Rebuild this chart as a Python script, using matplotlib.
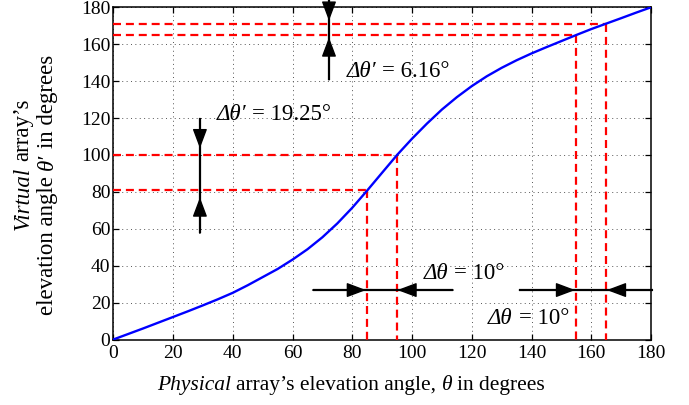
import matplotlib
matplotlib.use("Agg")
import matplotlib.pyplot as plt

plt.rcParams['font.family'] = ['Liberation Serif', 'DejaVu Serif']

# ---- data ----
theta = [0, 5, 10, 15, 20, 25, 30, 35, 40, 45, 50, 55, 60, 65, 70, 75, 80, 85,
         90, 95, 100, 105, 110, 115, 120, 125, 130, 135, 140, 145, 150, 155,
         160, 165, 170, 175, 180]
theta_virtual = [0, 3.0, 6.0, 9.1, 12.2, 15.3, 18.5, 21.8, 25.3, 29.4, 33.8,
                 38.2, 43.3, 48.9, 55.4, 62.9, 71.4, 80.75, 90.4, 100.0, 108.8,
                 117.0, 124.6, 131.3, 137.3, 142.6, 147.2, 151.3, 155.0, 158.4,
                 161.7, 165.0, 168.2, 171.16, 174.1, 177.1, 180]

# guide lines (physical angle -> virtual angle)
guide_theta = [85, 95, 155, 165]
guide_virtual = [80.75, 100.0, 165.0, 171.16]

# arrow annotations: shaft (x0, y0, x1, y1) and heads (tip, base)
shafts = [(29.0, 119.8, 29.0, 57.5),
          (72.2, 184.0, 72.2, 140.6),
          (66.7, 26.8, 113.8, 26.8),
          (135.9, 26.8, 180.5, 26.8)]
heads = [((29.0, 103.6), (29.0, 119.8)),
         ((29.0, 77.0), (29.0, 57.5)),
         ((72.2, 172.7), (72.2, 184.0)),
         ((72.2, 163.7), (72.2, 140.6)),
         ((84.6, 26.8), (66.7, 26.8)),
         ((95.1, 26.8), (113.8, 26.8)),
         ((154.6, 26.8), (135.9, 26.8)),
         ((165.2, 26.8), (180.5, 26.8))]

labels = [((34.6, 119.0), "Δθ′", "= 19.25°"),
          ((78.1, 142.4), "Δθ′", "= 6.16°"),
          ((103.8, 32.6), "Δθ", "= 10°"),
          ((125.5, 8.4), "Δθ", "= 10°")]

ticks = [0, 20, 40, 60, 80, 100, 120, 140, 160, 180]

fig = plt.figure(figsize=(6.89, 4.05), dpi=100)
ax = fig.add_axes([0.1644, 0.1617, 0.7805, 0.8203])
ax.set_xlim(0, 180)
ax.set_ylim(0, 180)
ax.set_xticks(ticks)
ax.set_yticks(ticks)
ax.tick_params(direction='in', top=True, right=True, length=4, width=0.9,
               labelsize=14, pad=4, colors='black')
ax.tick_params(axis='y', pad=2)
ax.grid(True, linestyle=(0, (1, 3.5)), color='#555555', linewidth=0.7)
ax.set_axisbelow(True)
for s in ax.spines.values():
    s.set_linewidth(1.1)

# red dashed guides
for gx, gy in zip(guide_theta, guide_virtual):
    for xs, ys in (([0, gx], [gy, gy]), ([gx, gx], [gy, 0])):
        ln, = ax.plot(xs, ys, color='#ff0000', lw=1.6, zorder=3)
        ln.set_dashes((3.6, 2.2))

ax.plot(theta, theta_virtual, color='#0000ff', lw=1.7, zorder=4)

# arrows
for x0, y0, x1, y1 in shafts:
    ax.plot([x0, x1], [y0, y1], color='black', lw=1.6, clip_on=False,
            zorder=5, solid_capstyle='butt')
for tip, base in heads:
    ax.annotate("", xy=tip, xytext=base, annotation_clip=False, zorder=6,
                arrowprops=dict(arrowstyle='-|>,head_length=1.2,head_width=0.45',
                                color='black', lw=1.0, shrinkA=0, shrinkB=0,
                                mutation_scale=10))


def chain(first, parts, size, rot=False):
    prev = first
    for s, st in parts:
        if rot:
            prev = ax.annotate(s, xy=(0.5, 1), xycoords=prev,
                               xytext=(0, size * 0.25), textcoords='offset points',
                               rotation=90, ha='center', va='bottom',
                               fontsize=size, style=st, annotation_clip=False)
        else:
            prev = ax.annotate(s, xy=(1, 0), xycoords=prev,
                               xytext=(size * 0.25, 0), textcoords='offset points',
                               ha='left', va='bottom', fontsize=size, style=st,
                               annotation_clip=False)
    return prev


asize = 16.5
for (lx, ly), it, rest in labels:
    t = ax.text(lx, ly, it, style='italic', fontsize=asize, ha='left',
                va='baseline', clip_on=False, zorder=7)
    chain(t, [(rest, 'normal')], asize)

xsize = 15.5
# x label
t = fig.text(156.7 / 689, 1 - 390 / 405, "Physical", style='italic',
             fontsize=xsize, ha='left', va='baseline')
chain(t, [("array’s elevation angle,", 'normal'), ("θ", 'italic'),
          ("in degrees", 'normal')], xsize)

ysize = 16.5
# y label (two lines)
t1 = fig.text(23 / 689, 1 - 230 / 405, "Virtual", style='italic',
              fontsize=ysize, rotation=90, ha='center', va='bottom')
chain(t1, [("array’s", 'normal')], ysize, rot=True)
t2 = fig.text(47 / 689, 1 - 315 / 405, "elevation angle", fontsize=ysize,
              rotation=90, ha='center', va='bottom')
chain(t2, [("θ′", 'italic'), ("in degrees", 'normal')], ysize, rot=True)

fig.savefig("out.png", dpi=100)
